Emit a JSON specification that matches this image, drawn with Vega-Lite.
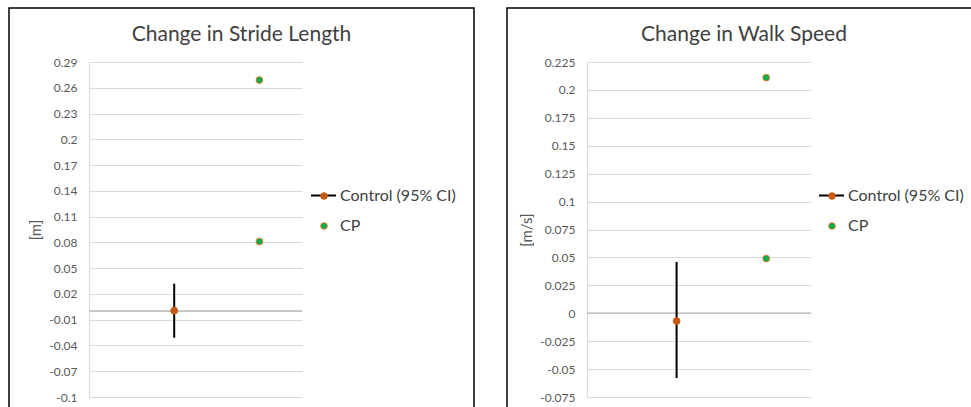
{
  "$schema": "https://vega.github.io/schema/vega-lite/v6.json",
  "padding": {"left": 8, "top": 7, "right": 0, "bottom": 0},
  "background": "white",
  "datasets": {
    "stride": [
      {"series": "Control (95% CI)", "x": 1, "y": 0.0005, "lo": -0.031, "hi": 0.032},
      {"series": "CP", "x": 2, "y": 0.269},
      {"series": "CP", "x": 2, "y": 0.081}
    ],
    "speed": [
      {"series": "Control (95% CI)", "x": 1, "y": -0.007, "lo": -0.058, "hi": 0.046},
      {"series": "CP", "x": 2, "y": 0.211},
      {"series": "CP", "x": 2, "y": 0.049}
    ]
  },
  "config": {
    "font": "Lato",
    "view": {"stroke": "#000000", "strokeWidth": 1.5},
    "concat": {"spacing": 31}
  },
  "resolve": {
    "scale": {"color": "independent", "fill": "independent", "stroke": "independent", "x": "independent", "y": "independent"},
    "legend": {"color": "independent", "fill": "independent", "stroke": "independent"}
  },
  "hconcat": [
    {
      "width": 465,
      "height": 410,
      "title": {"text": "Change in Stride Length", "frame": "group", "anchor": "middle", "offset": -54, "fontSize": 21, "fontWeight": "normal", "color": "#404040", "baseline": "alphabetic"},
      "data": {"name": "stride"},
      "layer": [
        {
          "mark": {"type": "rule", "color": "#bfbfbf", "strokeWidth": 1},
          "encoding": {
            "x": {"datum": 0, "type": "quantitative", "scale": {"domain": [0, 2.5], "range": [80, 293], "nice": false, "zero": false}, "axis": null},
            "x2": {"datum": 2.5},
            "y": {"datum": 0, "type": "quantitative"}
          }
        },
        {
          "transform": [{"filter": {"field": "series", "equal": "Control (95% CI)"}}],
          "mark": {"type": "rule", "strokeWidth": 2},
          "encoding": {
            "x": {"field": "x", "type": "quantitative", "axis": null},
            "y": {"field": "lo", "type": "quantitative"},
            "y2": {"field": "hi"},
            "color": {"field": "series", "type": "nominal", "scale": {"domain": ["Control (95% CI)"], "range": ["#000000"]},
              "legend": {"title": null, "orient": "none", "legendX": 301, "legendY": 174, "symbolType": "stroke", "symbolSize": 625, "symbolStrokeWidth": 2, "labelOpacity": 0, "labelFontSize": 16, "padding": 0}}
          }
        },
        {
          "mark": {"type": "point", "shape": "circle", "filled": true, "size": 46, "strokeWidth": 1, "opacity": 1},
          "encoding": {
            "x": {"field": "x", "type": "quantitative", "axis": null},
            "y": {"field": "y", "type": "quantitative",
              "scale": {"domain": [-0.1, 0.29], "range": [389, 54], "nice": false, "zero": false},
              "axis": {"orient": "left", "offset": -80, "values": [-0.1, -0.07, -0.04, -0.01, 0.02, 0.05, 0.08, 0.11, 0.14, 0.17, 0.2, 0.23, 0.26, 0.29], "tickCount": 30, "labelExpr": "toString(datum.value)", "ticks": false, "labelPadding": 12, "labelFontSize": 12, "labelColor": "#595959", "domain": true, "domainColor": "#d9d9d9", "domainWidth": 1, "grid": true, "gridColor": "#d9d9d9", "gridWidth": 1, "title": "[m]", "titleFontSize": 15, "titleFontWeight": "normal", "titleColor": "#595959", "titlePadding": 5, "labelOverlap": false}},
            "fill": {"field": "series", "type": "nominal", "scale": {"domain": ["Control (95% CI)", "CP"], "range": ["#C55A11", "#00B050"]},
              "legend": {"title": null, "orient": "none", "legendX": 307, "legendY": 180, "symbolType": "circle", "symbolSize": 44, "symbolStrokeWidth": 1, "labelFontSize": 16, "labelColor": "#404040", "labelOffset": 8, "rowPadding": 14, "padding": 0}},
            "stroke": {"field": "series", "type": "nominal", "scale": {"domain": ["Control (95% CI)", "CP"], "range": ["#C55A11", "#ED7D31"]},
              "legend": {"title": null, "orient": "none", "legendX": 307, "legendY": 180, "symbolType": "circle", "symbolSize": 44, "symbolStrokeWidth": 1, "labelFontSize": 16, "labelColor": "#404040", "labelOffset": 8, "rowPadding": 14, "padding": 0}}
          }
        }
      ]
    },
    {
      "width": 474,
      "height": 410,
      "title": {"text": "Change in Walk Speed", "frame": "group", "anchor": "middle", "offset": -54, "fontSize": 21, "fontWeight": "normal", "color": "#404040", "baseline": "alphabetic"},
      "data": {"name": "speed"},
      "layer": [
        {
          "mark": {"type": "rule", "color": "#bfbfbf", "strokeWidth": 1},
          "encoding": {
            "x": {"datum": 0, "type": "quantitative", "scale": {"domain": [0, 2.5], "range": [80, 304], "nice": false, "zero": false}, "axis": null},
            "x2": {"datum": 2.5},
            "y": {"datum": 0, "type": "quantitative"}
          }
        },
        {
          "transform": [{"filter": {"field": "series", "equal": "Control (95% CI)"}}],
          "mark": {"type": "rule", "strokeWidth": 2},
          "encoding": {
            "x": {"field": "x", "type": "quantitative", "axis": null},
            "y": {"field": "lo", "type": "quantitative"},
            "y2": {"field": "hi"},
            "color": {"field": "series", "type": "nominal", "scale": {"domain": ["Control (95% CI)"], "range": ["#000000"]},
              "legend": {"title": null, "orient": "none", "legendX": 311, "legendY": 174, "symbolType": "stroke", "symbolSize": 625, "symbolStrokeWidth": 2, "labelOpacity": 0, "labelFontSize": 16, "padding": 0}}
          }
        },
        {
          "mark": {"type": "point", "shape": "circle", "filled": true, "size": 46, "strokeWidth": 1, "opacity": 1},
          "encoding": {
            "x": {"field": "x", "type": "quantitative", "axis": null},
            "y": {"field": "y", "type": "quantitative",
              "scale": {"domain": [-0.075, 0.225], "range": [389, 54], "nice": false, "zero": false},
              "axis": {"orient": "left", "offset": -80, "values": [-0.075, -0.05, -0.025, 0, 0.025, 0.05, 0.075, 0.1, 0.125, 0.15, 0.175, 0.2, 0.225], "tickCount": 30, "labelExpr": "toString(datum.value)", "ticks": false, "labelPadding": 12, "labelFontSize": 12, "labelColor": "#595959", "domain": true, "domainColor": "#d9d9d9", "domainWidth": 1, "grid": true, "gridColor": "#d9d9d9", "gridWidth": 1, "title": "[m/s]", "titleFontSize": 15, "titleFontWeight": "normal", "titleColor": "#595959", "titlePadding": 5, "labelOverlap": false}},
            "fill": {"field": "series", "type": "nominal", "scale": {"domain": ["Control (95% CI)", "CP"], "range": ["#C55A11", "#00B050"]},
              "legend": {"title": null, "orient": "none", "legendX": 317, "legendY": 180, "symbolType": "circle", "symbolSize": 44, "symbolStrokeWidth": 1, "labelFontSize": 16, "labelColor": "#404040", "labelOffset": 8, "rowPadding": 14, "padding": 0}},
            "stroke": {"field": "series", "type": "nominal", "scale": {"domain": ["Control (95% CI)", "CP"], "range": ["#C55A11", "#ED7D31"]},
              "legend": {"title": null, "orient": "none", "legendX": 317, "legendY": 180, "symbolType": "circle", "symbolSize": 44, "symbolStrokeWidth": 1, "labelFontSize": 16, "labelColor": "#404040", "labelOffset": 8, "rowPadding": 14, "padding": 0}}
          }
        }
      ]
    }
  ]
}
